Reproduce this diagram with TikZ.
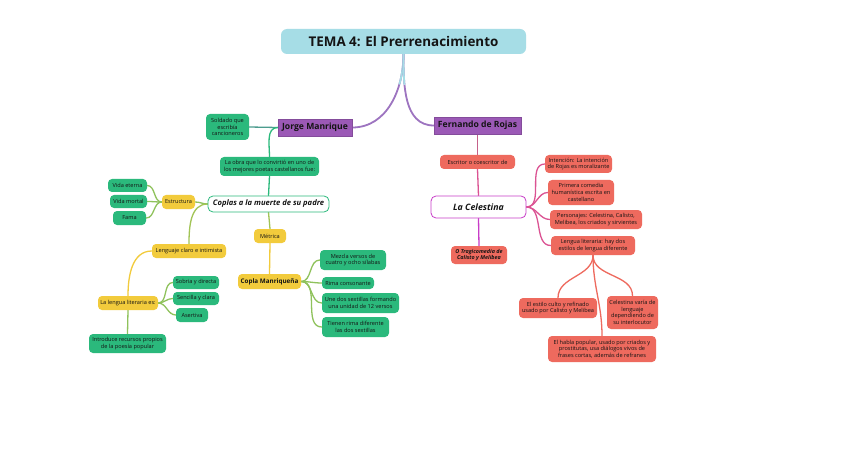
\documentclass[tikz,border=0pt]{standalone}
\usepackage{fontspec}
\setmainfont{Open Sans}
\usetikzlibrary{backgrounds}
\definecolor{cyanT}{HTML}{A6DDE6}
\definecolor{purp}{HTML}{9B59B6}
\definecolor{grn}{HTML}{2BB97C}
\definecolor{ylw}{HTML}{F2CB3C}
\definecolor{slm}{HTML}{EE6A5E}
\definecolor{mag}{HTML}{C83CC8}
\definecolor{txt}{HTML}{141414}
\tikzset{
  base/.style={rounded corners=4pt, inner sep=0pt, align=center, text=txt,
    font=\fontsize{5.6}{6.6}\selectfont},
  gbox/.style={base, fill=grn},
  ybox/.style={base, fill=ylw},
  sbox/.style={base, fill=slm},
  pbox/.style={inner sep=0pt, fill=purp, draw=purp!85!black, line width=0.4pt, text=txt, font=\fontsize{8.6}{10}\selectfont\bfseries},
  wbox/.style={rounded corners=5pt, inner sep=0pt, fill=white, line width=0.8pt, text=txt,
    font=\fontsize{7.6}{9}\selectfont\bfseries\itshape},
  con/.style={line width=1.3pt, line cap=round},
}
\begin{document}
\begin{tikzpicture}[x=1pt,y=-1pt]
\useasboundingbox (0,0) rectangle (848,449);
% nodes
\node[base, fill=cyanT, rounded corners=6pt, minimum width=245pt, minimum height=25pt,
  font=\fontsize{13.4}{16}\selectfont\bfseries] (title) at (403.5,41.5) {TEMA 4: El Prerrenacimiento};
\node[pbox, minimum width=74pt, minimum height=17pt] (jorge) at (315,127.5) {Jorge Manrique};
\node[pbox, minimum width=87pt, minimum height=17pt] (fern) at (477.5,125.5) {Fernando de Rojas};
% left branch
\node[gbox, minimum width=43pt, minimum height=26pt] (soldado) at (227.5,127) {Soldado que\\escribía\\cancioneros};
\node[gbox, minimum width=99pt, minimum height=19pt] (obra) at (269.5,166.5) {La obra que lo convirtió en uno de\\los mejores poetas castellanos fue:};
\node[wbox, draw=grn, minimum width=121pt, minimum height=16pt] (coplas) at (268.5,204) {Coplas a la muerte de su padre};
\node[ybox, minimum width=33pt, minimum height=14pt] (estr) at (178.5,202) {Estructura};
\node[gbox, minimum width=39pt, minimum height=13pt] (eterna) at (127.5,185.5) {Vida eterna};
\node[gbox, minimum width=37pt, minimum height=13pt] (mortal) at (128.5,201.5) {Vida mortal};
\node[gbox, minimum width=33pt, minimum height=14pt] (fama) at (129.5,218) {Fama};
\node[ybox, minimum width=74pt, minimum height=14pt] (lenguaje) at (189,251) {Lenguaje claro e intimista};
\node[ybox, minimum width=60pt, minimum height=14pt] (lalengua) at (128,303) {La lengua literaria es:};
\node[gbox, minimum width=46pt, minimum height=13pt] (sobria) at (196,282.5) {Sobria y directa};
\node[gbox, minimum width=46pt, minimum height=13pt] (sencilla) at (196,298.5) {Sencilla y clara};
\node[gbox, minimum width=32pt, minimum height=14pt] (asertiva) at (192,315) {Asertiva};
\node[gbox, minimum width=77pt, minimum height=19pt] (introduce) at (127.5,343.5) {Introduce recursos propios\\de la poesía popular};
\node[ybox, minimum width=32pt, minimum height=14pt] (metrica) at (270,236) {Métrica};
\node[ybox, minimum width=63pt, minimum height=15pt, font=\fontsize{6.3}{7.5}\selectfont\bfseries] (copla) at (269.5,281.5) {Copla Manriqueña};
\node[gbox, minimum width=66pt, minimum height=20pt] (mezcla) at (353,260) {Mezcla versos de\\cuatro y ocho sílabas};
\node[gbox, minimum width=52pt, minimum height=12pt] (rima) at (348,283) {Rima consonante};
\node[gbox, minimum width=77pt, minimum height=20pt] (une) at (360.5,303) {Une dos sextillas formando\\una unidad de 12 versos};
\node[gbox, minimum width=67pt, minimum height=20pt] (tienen) at (355.5,327) {Tienen rima diferente\\las dos sextillas};
% right branch
\node[sbox, minimum width=75pt, minimum height=14pt] (escritor) at (477.5,162) {Escritor o coescritor de};
\node[wbox, draw=mag, minimum width=95pt, minimum height=22pt, font=\fontsize{8.8}{10}\selectfont\bfseries\itshape] (celes) at (478.5,207) {La Celestina};
\node[sbox, minimum width=56pt, minimum height=18pt, font=\fontsize{5.4}{6.4}\selectfont\bfseries\itshape] (tragi) at (479,255) {O Tragicomedia de\\Calisto y Melibea};
\node[sbox, minimum width=67pt, minimum height=18pt] (intencion) at (578.5,164) {Intención: La intención\\de Rojas es moralizante};
\node[sbox, minimum width=66pt, minimum height=25pt] (primera) at (581,192.5) {Primera comedia\\humanística escrita en\\castellano};
\node[sbox, minimum width=92pt, minimum height=19pt] (personajes) at (596,219.5) {Personajes: Celestina, Calisto,\\Melibea, los criados y sirvientes};
\node[sbox, minimum width=84pt, minimum height=19pt] (lengualit) at (593,245.5) {Lengua literaria: hay dos\\estilos de lengua diferente};
\node[sbox, minimum width=78pt, minimum height=20pt] (estilo) at (558,308) {El estilo culto y refinado\\usado por Calisto y Melibea};
\node[sbox, minimum width=51pt, minimum height=33pt] (varia) at (632.5,312.5) {Celestina varía de\\lenguaje\\dependiendo de\\su interlocutor};
\node[sbox, minimum width=108pt, minimum height=26pt] (habla) at (602,349) {El habla popular, usado por criados y\\prostitutas, usa diálogos vivos de\\frases cortas, además de refranes};
% connectors
\begin{scope}[on background layer]
\fill[white] (0,0) rectangle (848,449);
\draw[con, line width=1.8pt, purp!80!cyanT] (title.south) to[out=-90,in=0] (jorge.east);
\draw[con, line width=1.8pt, cyanT, dash pattern=on 30pt off 400pt] (title.south) to[out=-90,in=0] (jorge.east);
\draw[con, line width=1.8pt, purp!80!cyanT] (title.south) to[out=-90,in=180] (fern.west);
\draw[con, line width=1.8pt, cyanT, dash pattern=on 30pt off 400pt] (title.south) to[out=-90,in=180] (fern.west);
\draw[con, grn!70!purp] (jorge.west) -- (soldado.east);
\draw[con, grn] (jorge.west) to[out=180,in=90] (obra.north);
\draw[con, grn] (obra.south) -- (coplas.north);
\draw[con, grn!50!ylw] (coplas.west) to[out=180,in=0] (estr.east);
\draw[con, grn!40!ylw] (coplas.west) to[out=180,in=90] (lenguaje.north);
\draw[con, ylw!50!grn] (estr.west) to[out=180,in=0] (eterna.east);
\draw[con, ylw!50!grn] (estr.west) to[out=180,in=0] (mortal.east);
\draw[con, ylw!50!grn] (estr.west) to[out=180,in=0] (fama.east);
\draw[con, ylw] (lenguaje.west) to[out=180,in=90] (lalengua.north);
\draw[con, ylw!50!grn] (lalengua.east) to[out=0,in=180] (sobria.west);
\draw[con, ylw!50!grn] (lalengua.east) to[out=0,in=180] (sencilla.west);
\draw[con, ylw!50!grn] (lalengua.east) to[out=0,in=180] (asertiva.west);
\draw[con, ylw!50!grn] (lalengua.south) -- (introduce.north);
\draw[con, grn!40!ylw] (coplas.south) -- (metrica.north);
\draw[con, ylw] (metrica.south) -- (copla.north);
\draw[con, ylw!50!grn] (copla.east) to[out=0,in=180] (mezcla.west);
\draw[con, ylw!50!grn] (copla.east) to[out=0,in=180] (rima.west);
\draw[con, ylw!50!grn] (copla.east) to[out=0,in=180] (une.west);
\draw[con, ylw!50!grn] (copla.east) to[out=0,in=180] (tienen.west);
\draw[con, purp!50!slm] (fern.south) -- (escritor.north);
\draw[con, slm!50!mag] (escritor.south) -- (celes.north);
\draw[con, mag] (celes.south) -- (tragi.north);
\draw[con, mag!50!slm] (celes.east) to[out=0,in=180] (intencion.west);
\draw[con, mag!50!slm] (celes.east) to[out=0,in=180] (primera.west);
\draw[con, mag!50!slm] (celes.east) to[out=0,in=180] (personajes.west);
\draw[con, mag!50!slm] (celes.east) to[out=0,in=180] (lengualit.west);
\draw[con, slm] (lengualit.south) to[out=-90,in=90] (estilo.north);
\draw[con, slm] (lengualit.south) to[out=-90,in=90] (habla.north);
\draw[con, slm] (lengualit.south) to[out=-90,in=90] (varia.north);
\end{scope}
\end{tikzpicture}
\end{document}
